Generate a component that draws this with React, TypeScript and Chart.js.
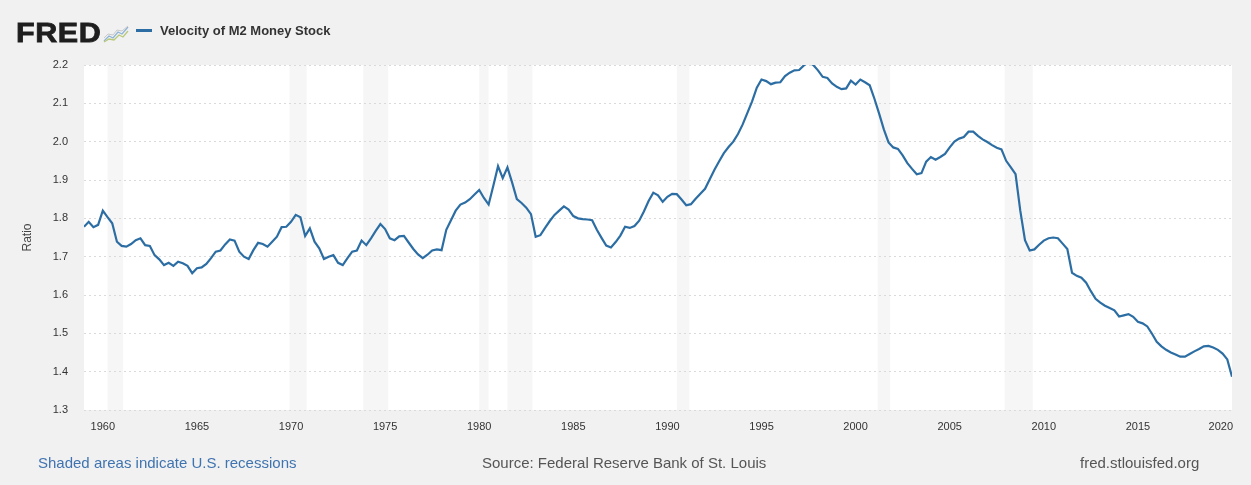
import React, { useEffect, useRef } from "react";
import { Chart, registerables } from "chart.js";

Chart.register(...registerables);

// Velocity of M2 Money Stock, quarterly, 1959Q1 .. 2020Q1
const START_YEAR = 1959;
const v1959to1969 = [
  1.778, 1.791, 1.777, 1.783, 1.82, 1.803, 1.787, 1.739, 1.728, 1.726, 1.733, 1.743,
  1.748, 1.73, 1.728, 1.704, 1.693, 1.678, 1.684, 1.676, 1.687, 1.683, 1.676, 1.657,
  1.67, 1.672, 1.681, 1.696, 1.713, 1.716, 1.732, 1.745, 1.742, 1.713, 1.7, 1.694,
  1.717, 1.736, 1.733, 1.726, 1.739, 1.752, 1.777, 1.778,
];
const v1970s = [
  1.791, 1.809, 1.803, 1.754, 1.774, 1.739, 1.722, 1.694, 1.7, 1.704, 1.684, 1.678,
  1.696, 1.713, 1.716, 1.742, 1.73, 1.748, 1.767, 1.785, 1.772, 1.748, 1.743, 1.753,
  1.754, 1.737, 1.72, 1.706, 1.696, 1.705, 1.716, 1.719, 1.717, 1.77, 1.795, 1.82,
  1.836, 1.841, 1.85, 1.862,
];
const v1980s = [
  1.874, 1.853, 1.836, 1.885, 1.936, 1.905, 1.933, 1.893, 1.85, 1.84, 1.828, 1.811,
  1.752, 1.756, 1.775, 1.793, 1.809, 1.82, 1.831, 1.823, 1.806, 1.8, 1.798, 1.797,
  1.795, 1.77, 1.749, 1.729, 1.724, 1.738, 1.755, 1.778, 1.775, 1.78, 1.794, 1.818,
  1.845, 1.867, 1.86, 1.843,
];
const v1990s = [
  1.856, 1.864, 1.863, 1.849, 1.834, 1.837, 1.851, 1.864, 1.877, 1.902, 1.927, 1.949,
  1.97, 1.986, 2.0, 2.02, 2.045, 2.075, 2.105, 2.141, 2.162, 2.158, 2.15, 2.154,
  2.155, 2.171, 2.18, 2.186, 2.187, 2.199, 2.207, 2.2, 2.186, 2.169, 2.166, 2.152,
  2.143, 2.137, 2.139, 2.159,
];
const v2000s = [
  2.149, 2.162, 2.155, 2.147, 2.112, 2.073, 2.032, 1.998, 1.985, 1.981, 1.964, 1.944,
  1.929, 1.915, 1.918, 1.948, 1.96, 1.953, 1.96, 1.968, 1.985, 2.0, 2.008, 2.012,
  2.026, 2.026, 2.015, 2.006, 1.999, 1.991, 1.984, 1.98, 1.95, 1.933, 1.915, 1.82,
  1.743, 1.716, 1.719, 1.731,
];
const v2010to2020 = [
  1.742, 1.748, 1.75, 1.748, 1.734, 1.72, 1.658, 1.65, 1.645, 1.632, 1.61, 1.59,
  1.58, 1.572, 1.566, 1.56, 1.544, 1.547, 1.55, 1.543, 1.53, 1.526, 1.518, 1.499,
  1.478, 1.466, 1.457, 1.45, 1.445, 1.439, 1.439, 1.446, 1.453, 1.459, 1.466, 1.467,
  1.463, 1.457, 1.447, 1.432, 1.387,
];

const xTickYears = [1960, 1965, 1970, 1975, 1980, 1985, 1990, 1995, 2000, 2005, 2010, 2015, 2020];
const recessionStarts = ["1960-04", "1969-12", "1973-11", "1980-01", "1981-07", "1990-07", "2001-03", "2007-12", "2020-02"];
const recessionEnds = ["1961-02", "1970-11", "1975-03", "1980-07", "1982-11", "1991-03", "2001-11", "2009-06", "2020-04"];

const SERIES_LABEL = "Velocity of M2 Money Stock";
const FONT = '"Liberation Sans", Arial, Helvetica, sans-serif';
const LINE_COLOR = "#2c6ea3";

const ym = (s: string) => {
  const [y, m] = s.split("-").map(Number);
  return y + (m - 1) / 12;
};

export default function App() {
  const ref = useRef<HTMLCanvasElement | null>(null);

  useEffect(() => {
    if (!ref.current) return;
    const values = [...v1959to1969, ...v1970s, ...v1980s, ...v1990s, ...v2000s, ...v2010to2020];
    const data = values.map((v, i) => ({ x: START_YEAR + i / 4, y: v }));

    const bgPlugin = {
      id: "bgPlugin",
      beforeDraw(chart: any) {
        const { ctx, chartArea: a, scales } = chart;
        const xs = scales.x;
        ctx.save();
        ctx.fillStyle = "#f1f1f1";
        ctx.fillRect(0, 0, chart.width, chart.height);
        ctx.fillStyle = "#ffffff";
        ctx.fillRect(a.left, a.top, a.right - a.left, a.bottom - a.top);
        ctx.fillStyle = "rgba(0,0,0,0.035)";
        recessionStarts.forEach((s, i) => {
          const x1 = Math.max(a.left, xs.getPixelForValue(ym(s)));
          const x2 = Math.min(a.right, xs.getPixelForValue(ym(recessionEnds[i])));
          if (x2 > x1) ctx.fillRect(x1, a.top, x2 - x1, a.bottom - a.top);
        });
        ctx.restore();
      },
    };

    const xLabelPlugin = {
      id: "xLabelPlugin",
      afterDraw(chart: any) {
        const { ctx, chartArea: a, scales } = chart;
        const xs = scales.x;
        ctx.save();
        ctx.font = `11px ${FONT}`;
        ctx.fillStyle = "#333333";
        ctx.textBaseline = "middle";
        ctx.textAlign = "left";
        xTickYears.forEach((yr) => {
          const label = String(yr);
          const w = ctx.measureText(label).width;
          let px = xs.getPixelForValue(yr) - w / 2;
          if (px + w > a.right + 1) px = a.right + 1 - w;
          ctx.fillText(label, px, a.bottom + 17);
        });
        ctx.restore();
      },
    };

    const chart = new Chart(ref.current, {
      type: "line",
      data: {
        datasets: [
          {
            label: SERIES_LABEL,
            data,
            borderColor: LINE_COLOR,
            backgroundColor: LINE_COLOR,
            borderWidth: 2.2,
            pointRadius: 0,
            fill: false,
            tension: 0,
          },
        ],
      },
      options: {
        responsive: false,
        animation: false,
        devicePixelRatio: 1,
        layout: { padding: { left: 0, right: 19, top: 65, bottom: 0 } },
        plugins: {
          legend: { display: false },
          tooltip: { enabled: false },
          title: { display: false },
        },
        scales: {
          x: {
            type: "linear",
            min: START_YEAR,
            max: START_YEAR + (values.length - 1) / 4,
            ticks: { display: false },
            grid: { display: false },
            border: { display: false },
            afterFit: (s: any) => {
              s.height = 75;
            },
          },
          y: {
            min: 1.3,
            max: 2.2,
            ticks: {
              stepSize: 0.1,
              callback: (v: any) => Number(v).toFixed(1),
              color: "#333333",
              font: { size: 11, family: FONT },
              padding: 16,
            },
            grid: { color: "#dadada", drawTicks: false, lineWidth: 1 },
            border: { display: false, dash: [2, 3] },
            title: {
              display: true,
              text: "Ratio",
              color: "#444444",
              font: { size: 12, family: FONT },
              padding: { top: 20, bottom: 0 },
            },
            afterFit: (s: any) => {
              s.width = 84;
            },
          },
        },
      } as any,
      plugins: [bgPlugin, xLabelPlugin],
    });
    return () => chart.destroy();
  }, []);

  const footer: React.CSSProperties = {
    position: "absolute",
    top: 454,
    fontFamily: FONT,
    fontSize: 15,
    lineHeight: "17px",
    whiteSpace: "nowrap",
  };

  return (
    <div
      style={{
        position: "absolute",
        left: 0,
        top: 0,
        width: 1251,
        height: 485,
        overflow: "hidden",
        background: "#f1f1f1",
      }}
    >
      <canvas ref={ref} width={1251} height={485} style={{ position: "absolute", left: 0, top: 0, width: 1251, height: 485 }} />
      <div
        style={{
          position: "absolute",
          left: 16,
          top: 20,
          fontFamily: FONT,
          fontSize: 27,
          lineHeight: "27px",
          fontWeight: 900,
          letterSpacing: 0.5,
          color: "#1e1e1e",
          WebkitTextStroke: "0.8px #1e1e1e",
          transform: "scaleX(1.13)",
          transformOrigin: "left top",
        }}
      >
        FRED
      </div>
      <svg style={{ position: "absolute", left: 103, top: 25 }} width={26} height={18} viewBox="0 0 26 18">
        <polyline points="1,16 6,11 10,13 15,7 19,9 25,2" fill="none" stroke="#8fb3d6" strokeWidth={1.3} />
        <polyline points="1,17 6,14 11,15 16,10 20,12 25,6" fill="none" stroke="#b9c97a" strokeWidth={1.3} />
        <polyline points="1,13 5,9 10,10 14,5 19,6 25,1" fill="none" stroke="#c9c9c9" strokeWidth={1} />
      </svg>
      <div style={{ position: "absolute", left: 136, top: 29, width: 16, height: 3, background: LINE_COLOR }} />
      <div
        style={{
          position: "absolute",
          left: 160,
          top: 23,
          fontFamily: FONT,
          fontSize: 13,
          lineHeight: "15px",
          fontWeight: 700,
          color: "#333333",
          whiteSpace: "nowrap",
        }}
      >
        {SERIES_LABEL}
      </div>
      <div style={{ ...footer, left: 38, color: "#3f74b0" }}>Shaded areas indicate U.S. recessions</div>
      <div style={{ ...footer, left: 482, color: "#555555" }}>Source: Federal Reserve Bank of St. Louis</div>
      <div style={{ ...footer, left: 1080, color: "#555555" }}>fred.stlouisfed.org</div>
    </div>
  );
}
